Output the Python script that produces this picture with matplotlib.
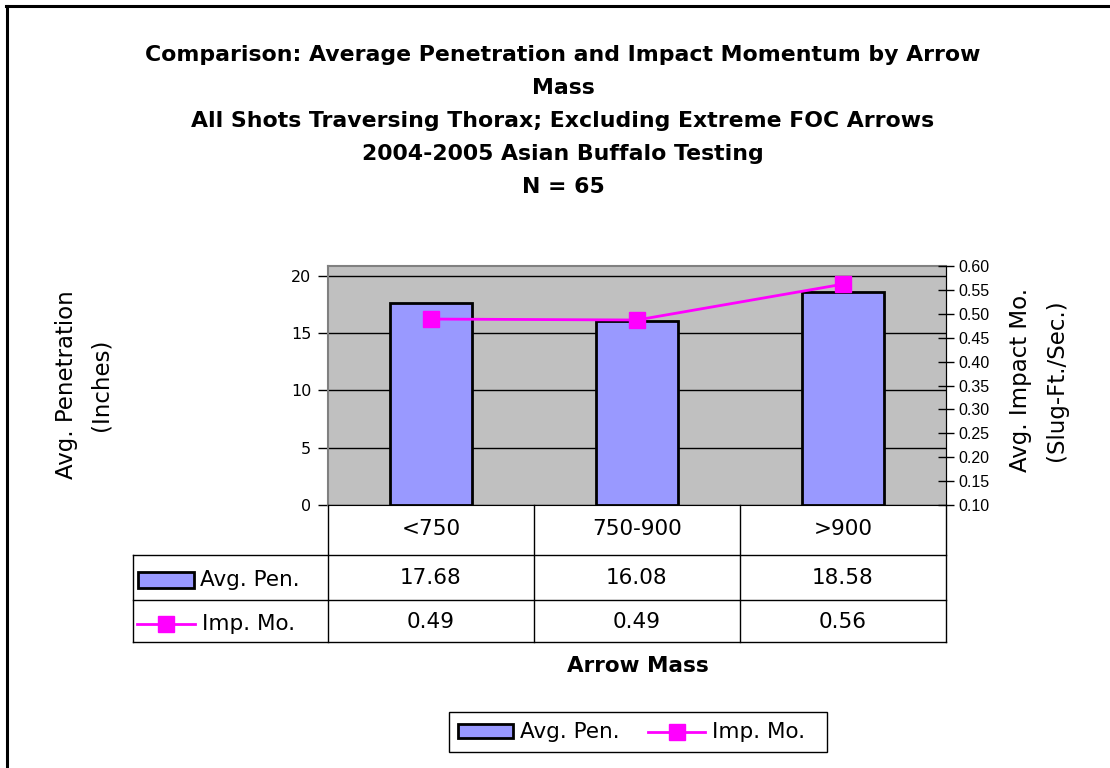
import matplotlib
matplotlib.use("Agg")
import matplotlib.pyplot as plt
from matplotlib.transforms import blended_transform_factory
from matplotlib.patches import Rectangle
from matplotlib.lines import Line2D
import numpy as np

# ---- data ----
categories = ["<750", "750-900", ">900"]
avg_pen = [17.68, 16.08, 18.58]
imp_mo = [0.489, 0.487, 0.562]
pen_labels = ["17.68", "16.08", "18.58"]
imp_labels = ["0.49", "0.49", "0.56"]
left_ticks = [0, 5, 10, 15, 20]
right_ticks = [0.10, 0.15, 0.20, 0.25, 0.30, 0.35, 0.40, 0.45, 0.50, 0.55, 0.60]
series_names = ["Avg. Pen.", "Imp. Mo."]
title_lines = ["Comparison: Average Penetration and Impact Momentum by Arrow",
               "Mass",
               "All Shots Traversing Thorax; Excluding Extreme FOC Arrows",
               "2004-2005 Asian Buffalo Testing",
               "N = 65"]

BAR_C = "#9999FF"
LINE_C = "#FF00FF"
FONT = "DejaVu Sans"
TFS = 15.5  # table / legend font size

W, H = 1110, 768
fig = plt.figure(figsize=(W / 100, H / 100), dpi=100)
fig.patch.set_facecolor("white")


def fx(px):
    return px / W


def fy(py):
    return 1 - py / H


# border (left and top visible)
fig.add_artist(Line2D([fx(7), fx(7)], [fy(6), fy(800)], color="black", lw=2.2, transform=fig.transFigure))
fig.add_artist(Line2D([fx(6), fx(1200)], [fy(6), fy(6)], color="black", lw=2.2, transform=fig.transFigure))

# title
ty = [55, 88, 121, 154, 187]
for line, yy in zip(title_lines, ty):
    fig.text(fx(563), fy(yy), line, ha="center", va="center", fontsize=15.8,
             fontweight="bold", family=FONT)

# axes
ax = fig.add_axes([fx(328), fy(505), fx(946) - fx(328), fy(266) - fy(505)])
ax.set_facecolor("#C0C0C0")
x = np.arange(len(categories))
ax.bar(x, avg_pen, width=0.4, color=BAR_C, edgecolor="black", linewidth=2, zorder=3)
ax.set_xlim(-0.5, 2.5)
ax.set_ylim(0, 20.87)
ax.set_yticks(left_ticks)
ax.set_yticklabels([str(t) for t in left_ticks], family=FONT, fontsize=11.5)
ax.yaxis.grid(True, color="black", linewidth=1)
ax.set_axisbelow(True)
ax.set_xticks([])
ax.tick_params(axis="y", direction="out", length=7, width=1, pad=5)
for s in ["left", "top"]:
    ax.spines[s].set_color("#808080")
    ax.spines[s].set_linewidth(1.5)
ax.spines["bottom"].set_color("black")
ax.spines["right"].set_color("black")

ax2 = ax.twinx()
ax2.plot(x, imp_mo, color=LINE_C, lw=2, marker="s", ms=12, zorder=5)
ax2.set_ylim(0.10, 0.60)
ax2.set_yticks(right_ticks)
ax2.set_yticklabels(["%.2f" % t for t in right_ticks], family="Liberation Sans", fontsize=11.5)
ax2.tick_params(axis="y", direction="inout", length=12, width=1, pad=3)
for s in ["left", "top", "bottom"]:
    ax2.spines[s].set_visible(False)
ax2.spines["right"].set_color("black")

# axis labels
fig.text(fx(66), fy(385), "Avg. Penetration", rotation=90, ha="center", va="center",
         fontsize=16.5, family=FONT)
fig.text(fx(101), fy(385), "(Inches)", rotation=90, ha="center", va="center",
         fontsize=16.5, family=FONT)
fig.text(fx(1021), fy(380), "Avg. Impact Mo.", rotation=90, ha="center", va="center",
         fontsize=16.5, family=FONT)
fig.text(fx(1056), fy(380), "(Slug-Ft./Sec.)", rotation=90, ha="center", va="center",
         fontsize=16.5, family=FONT)
fig.text(fx(638), fy(666), "Arrow Mass", ha="center", va="center", fontsize=15.5,
         fontweight="bold", family=FONT)

# data table
tb = blended_transform_factory(ax.transData, fig.transFigure)
tf = fig.transFigure
lc = dict(color="black", lw=1)
for xb in [-0.5, 0.5, 1.5, 2.5]:
    fig.add_artist(Line2D([xb, xb], [fy(505), fy(642)], transform=tb, **lc))
fig.add_artist(Line2D([fx(133), fx(133)], [fy(555), fy(642)], transform=tf, **lc))
for yy in [555, 600, 642]:
    fig.add_artist(Line2D([fx(133), fx(946)], [fy(yy), fy(yy)], transform=tf, **lc))

for i, c in enumerate(categories):
    fig.text(x[i], fy(529), c, transform=tb, ha="center", va="center", fontsize=TFS, family=FONT)
    fig.text(x[i], fy(578), pen_labels[i], transform=tb, ha="center", va="center", fontsize=TFS, family=FONT)
    fig.text(x[i], fy(622), imp_labels[i], transform=tb, ha="center", va="center", fontsize=TFS, family=FONT)

# row headers with legend keys
fig.add_artist(Rectangle((fx(138), fy(588)), fx(194) - fx(138), fy(572) - fy(588), transform=tf,
                         facecolor=BAR_C, edgecolor="black", lw=2))
fig.text(fx(200), fy(580), series_names[0], ha="left", va="center", fontsize=TFS, family=FONT)
fig.add_artist(Line2D([fx(137), fx(195)], [fy(624), fy(624)], transform=tf, color=LINE_C, lw=2))
fig.add_artist(Line2D([fx(166)], [fy(624)], transform=tf, color=LINE_C, marker="s", ms=12, lw=0))
fig.text(fx(202), fy(624), series_names[1], ha="left", va="center", fontsize=TFS, family=FONT)

# bottom legend
fig.add_artist(Rectangle((fx(449), fy(752)), fx(827) - fx(449), fy(712) - fy(752), transform=tf,
                         facecolor="white", edgecolor="black", lw=1))
fig.add_artist(Rectangle((fx(458), fy(738)), fx(513) - fx(458), fy(724) - fy(738), transform=tf,
                         facecolor=BAR_C, edgecolor="black", lw=2))
fig.text(fx(520), fy(732), series_names[0], ha="left", va="center", fontsize=TFS, family=FONT)
fig.add_artist(Line2D([fx(648), fx(705)], [fy(732), fy(732)], transform=tf, color=LINE_C, lw=2))
fig.add_artist(Line2D([fx(677)], [fy(732)], transform=tf, color=LINE_C, marker="s", ms=12, lw=0))
fig.text(fx(712), fy(732), series_names[1], ha="left", va="center", fontsize=TFS, family=FONT)

fig.savefig("out.png", dpi=100)
